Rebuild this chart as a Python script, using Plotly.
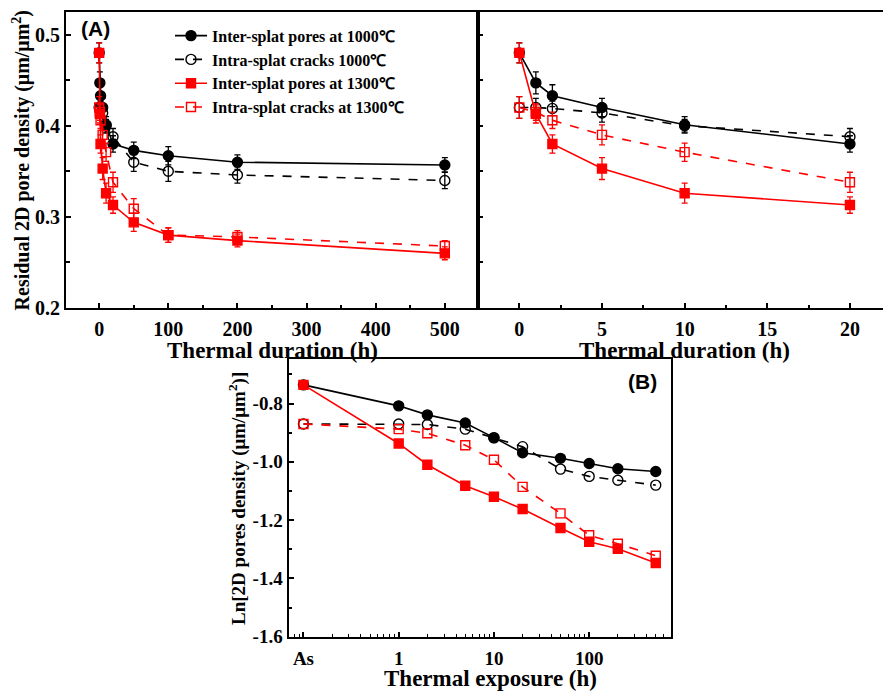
import plotly.graph_objects as go

# ---------------- data ----------------
hours = [0, 1, 2, 5, 10, 20, 50, 100, 200, 500]

inter_1000 = [0.480, 0.447, 0.433, 0.420, 0.401, 0.380, 0.373, 0.367, 0.360, 0.357]
inter_1000_err = [0.011, 0.012, 0.012, 0.010, 0.009, 0.009, 0.009, 0.010, 0.008, 0.008]
intra_1000 = [0.420, 0.420, 0.419, 0.414, 0.400, 0.388, 0.360, 0.350, 0.346, 0.340]
intra_1000_err = [0.012, 0.010, 0.008, 0.010, 0.007, 0.009, 0.010, 0.011, 0.009, 0.009]
inter_1300 = [0.480, 0.413, 0.380, 0.353, 0.326, 0.313, 0.294, 0.280, 0.274, 0.260]
inter_1300_err = [0.011, 0.010, 0.010, 0.012, 0.011, 0.009, 0.010, 0.008, 0.007, 0.007]
intra_1300 = [0.420, 0.415, 0.406, 0.390, 0.371, 0.338, 0.309, 0.280, 0.278, 0.268]
intra_1300_err = [0.012, 0.009, 0.009, 0.011, 0.010, 0.011, 0.011, 0.008, 0.007, 0.006]

# panel B (log time axis, "As" = as-sprayed placed one decade below 1 h)
b_hours = [0.1, 1, 2, 5, 10, 20, 50, 100, 200, 500]
b_tickvals = [0.1, 1, 10, 100]
b_ticktext = ["As", "1", "10", "100"]
b_ytickvals = [-1.6, -1.4, -1.2, -1.0, -0.8]
b_yticktext = ["-1.6", "-1.4", "-1.2", "-1.0", "-0.8"]
ln_inter_1000 = [-0.736, -0.808, -0.839, -0.867, -0.917, -0.969, -0.988, -1.006, -1.024, -1.033]
ln_intra_1000 = [-0.870, -0.870, -0.872, -0.888, -0.918, -0.948, -1.025, -1.050, -1.063, -1.080]
ln_inter_1300 = [-0.736, -0.937, -1.010, -1.082, -1.120, -1.162, -1.227, -1.274, -1.298, -1.347]
ln_intra_1300 = [-0.870, -0.888, -0.902, -0.943, -0.993, -1.086, -1.177, -1.252, -1.281, -1.322]

names = ["Inter-splat pores at 1000℃", "Intra-splat cracks 1000℃",
         "Inter-splat pores at 1300℃", "Intra-splat cracks at 1300℃"]

RED = "#ff0000"
BLK = "#000000"
styles = [
    dict(color=BLK, dash="solid", symbol="circle"),
    dict(color=BLK, dash="dash", symbol="circle-open"),
    dict(color=RED, dash="solid", symbol="square"),
    dict(color=RED, dash="dash", symbol="square-open"),
]
series_a = [(inter_1000, inter_1000_err), (intra_1000, intra_1000_err),
            (inter_1300, inter_1300_err), (intra_1300, intra_1300_err)]
series_b = [ln_inter_1000, ln_intra_1000, ln_inter_1300, ln_intra_1300]

SERIF = "Liberation Serif"
fig = go.Figure()

n_short = sum(1 for h in hours if h <= 20)

for i, ((vals, err), st) in enumerate(zip(series_a, styles)):
    msize = 10 if "circle" in st["symbol"] else 9
    common = dict(
        mode="lines+markers",
        line=dict(color=st["color"], width=1.6, dash=st["dash"]),
        marker=dict(symbol=st["symbol"], size=msize, color=st["color"],
                    line=dict(color=st["color"], width=1.4)),
    )
    fig.add_trace(go.Scatter(
        x=hours, y=vals, name=names[i], xaxis="x", yaxis="y",
        error_y=dict(type="data", array=err, color=st["color"], thickness=1.3, width=3),
        showlegend=True, **common))
    fig.add_trace(go.Scatter(
        x=hours[:n_short], y=vals[:n_short], name=names[i], xaxis="x2", yaxis="y2",
        error_y=dict(type="data", array=err[:n_short], color=st["color"], thickness=1.3, width=3),
        showlegend=False, **common))
    fig.add_trace(go.Scatter(
        x=b_hours, y=series_b[i], name=names[i], xaxis="x3", yaxis="y3",
        showlegend=False,
        mode="lines+markers",
        line=dict(color=st["color"], width=1.6, dash=st["dash"]),
        marker=dict(symbol=st["symbol"], size=msize, color=st["color"],
                    line=dict(color=st["color"], width=1.4))))

W, H = 883, 693
def px_x(p): return p / W
def px_y(p): return 1 - p / H

def axis_common(size=20):
    return dict(showline=True, linewidth=2, linecolor="black", showgrid=False,
                zeroline=False, ticks="inside", tickwidth=1.5, tickcolor="black",
                ticklen=5, tickfont=dict(family=SERIF, size=size, color="black", weight="bold"))

fig.update_layout(
    width=W, height=H, margin=dict(l=0, r=0, t=0, b=0),
    paper_bgcolor="white", plot_bgcolor="rgba(0,0,0,0)",
    showlegend=True,
    legend=dict(x=px_x(170), y=px_y(19), xanchor="left", yanchor="top",
                bgcolor="rgba(0,0,0,0)", borderwidth=0,
                font=dict(family=SERIF, size=16, color="black", weight="bold"),
                tracegroupgap=0, itemwidth=32),
    xaxis=dict(domain=[px_x(66), px_x(478)], range=[-48, 548], anchor="y", mirror=True,
               dtick=100, tick0=0, ticklabelstandoff=2,
               minor=dict(dtick=50, tick0=0, ticks="inside", ticklen=3, tickwidth=1.5, tickcolor="black"),
               **axis_common()),
    yaxis=dict(domain=[px_y(313), px_y(12)], range=[0.2, 0.525], anchor="x", mirror=True,
               dtick=0.1, tick0=0.2, tickformat=".1f",
               minor=dict(dtick=0.05, tick0=0.2, ticks="inside", ticklen=4, tickwidth=1.5, tickcolor="black"),
               **axis_common()),
    xaxis2=dict(domain=[px_x(478), 1.0], range=[-2.5, 22.0], anchor="y2", mirror=True,
                dtick=5, tick0=0, ticklabelstandoff=2,
                minor=dict(dtick=2.5, tick0=0, ticks="inside", ticklen=3, tickwidth=1.5, tickcolor="black"),
                **axis_common()),
    yaxis2=dict(domain=[px_y(313), px_y(12)], range=[0.2, 0.525], anchor="x2", mirror=False,
                dtick=0.05, tick0=0.2, showticklabels=False,
                **axis_common()),
    xaxis3=dict(domain=[px_x(288.5), px_x(670.5)], type="log", range=[-1.157, 2.854],
                anchor="y3", mirror=True, tickmode="array", tickvals=b_tickvals, ticktext=b_ticktext,
                ticklabelstandoff=3,
                minor=dict(dtick="D1", ticks="inside", ticklen=3, tickwidth=1.3, tickcolor="black"),
                **axis_common(19)),
    yaxis3=dict(domain=[px_y(647), px_y(365)], range=[-1.6, -0.648], anchor="x3", mirror=True,
                tickmode="array", tickvals=b_ytickvals, ticktext=b_yticktext,
                minor=dict(dtick=0.1, tick0=-1.6, ticks="inside", ticklen=3, tickwidth=1.5, tickcolor="black"),
                **axis_common(19)),
)

title_font = dict(family=SERIF, size=23, color="black", weight="bold")
ann = [
    dict(text="Residual 2D pore density (μm/μm<sup>2</sup>)", x=px_x(21), y=px_y(163),
         textangle=-90, font=dict(family=SERIF, size=20, color="black", weight="bold")),
    dict(text="Thermal duration (h)", x=px_x(272), y=px_y(356), font=title_font),
    dict(text="Thermal duration (h)", x=px_x(684), y=px_y(356), font=title_font),
    dict(text="Ln[2D pores density (μm/μm<sup>2</sup>)]", x=px_x(238), y=px_y(507),
         textangle=-90, font=dict(family=SERIF, size=19, color="black", weight="bold")),
    dict(text="Thermal exposure (h)", x=px_x(490), y=px_y(689), font=title_font),
    dict(text="(A)", x=px_x(95), y=px_y(29),
         font=dict(family="Liberation Sans", size=21, color="black", weight="bold")),
    dict(text="(B)", x=px_x(642), y=px_y(388),
         font=dict(family="Liberation Sans", size=21, color="black", weight="bold")),
]
for a in ann:
    fig.add_annotation(xref="paper", yref="paper", showarrow=False,
                       xanchor="center", yanchor="middle", **a)

fig.write_html("out.html")
